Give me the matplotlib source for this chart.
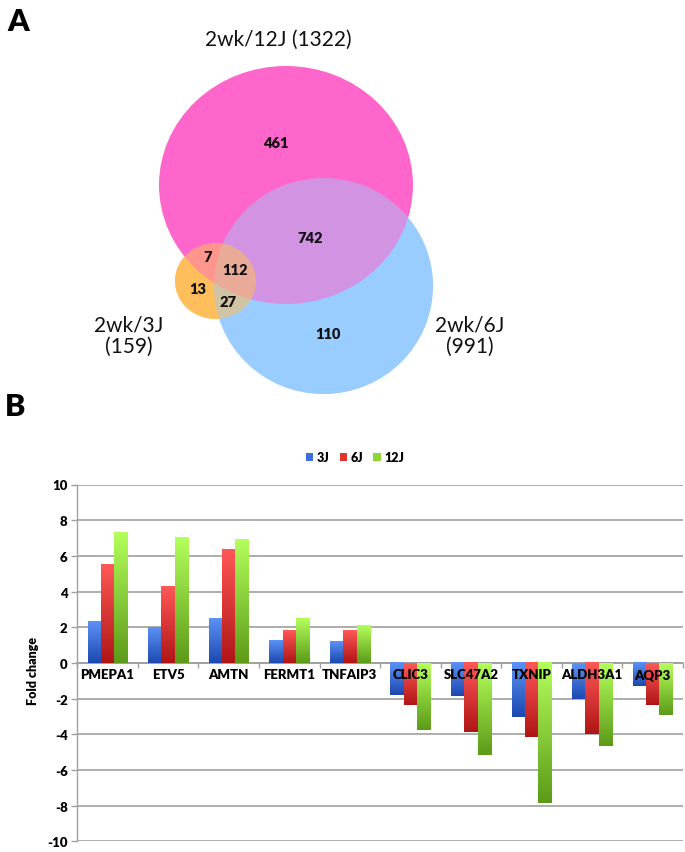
import numpy as np
import matplotlib
matplotlib.use("Agg")
import matplotlib.pyplot as plt
from matplotlib.patches import Ellipse, Patch
from matplotlib.colors import LinearSegmentedColormap

# ---------------- data ----------------
venn_sets = ["2wk/12J (1322)", "2wk/3J\n(159)", "2wk/6J\n(991)"]
venn_counts = ["461", "742", "7", "112", "13", "27", "110"]

genes = ["PMEPA1", "ETV5", "AMTN", "FERMT1", "TNFAIP3",
         "CLIC3", "SLC47A2", "TXNIP", "ALDH3A1", "AQP3"]
series_names = ["3J", "6J", "12J"]
fc_3J = [2.35, 2.0, 2.5, 1.25, 1.2, -1.8, -1.87, -3.03, -2.0, -1.32]
fc_6J = [5.52, 4.31, 6.38, 1.82, 1.82, -2.35, -3.9, -4.18, -4.0, -2.35]
fc_12J = [7.3, 7.05, 6.93, 2.5, 2.12, -3.75, -5.14, -7.88, -4.65, -2.9]
yticks = [-10, -8, -6, -4, -2, 0, 2, 4, 6, 8, 10]

FONT = ["Lato", "DejaVu Sans"]

W, H = 685, 853
fig = plt.figure(figsize=(W / 100, H / 100), dpi=100)

# ---------------- Panel A: Venn ----------------
av = fig.add_axes([0, 0, 1, 1])
av.set_xlim(0, W)
av.set_ylim(H, 0)
av.axis("off")

pink = "#FF66CC"
blue = "#99CCFF"
orange = "#FFBE5C"

pink_e = dict(xy=(286, 186), width=254, height=238)
blue_e = dict(xy=(323.5, 287), width=219, height=216)
orng_e = dict(xy=(215.5, 282), width=81, height=76)

av.add_patch(Ellipse(**orng_e, facecolor=orange, edgecolor="none", zorder=1))
av.add_patch(Ellipse(**blue_e, facecolor=blue, edgecolor="none", zorder=2))
av.add_patch(Ellipse(**pink_e, facecolor=pink, edgecolor="none", zorder=3))
av.add_patch(Ellipse(**blue_e, facecolor=blue, edgecolor="none", alpha=0.45, zorder=4))
av.add_patch(Ellipse(**orng_e, facecolor=orange, edgecolor="none", alpha=0.55, zorder=5))

cnt_pos = [(276, 143), (310, 238), (208, 257), (235, 270), (198, 289), (228, 302), (328, 334)]
for t, (x, y) in zip(venn_counts, cnt_pos):
    av.text(x, y, t, ha="center", va="center", fontsize=10.5, fontweight="heavy",
            family=FONT, color="#111111", zorder=10)

set_pos = [(278, 40), (129, 336), (470, 336)]
for t, (x, y) in zip(venn_sets, set_pos):
    av.text(x, y, t, ha="center", va="center", fontsize=15,
            family=FONT, color="#111111", zorder=10,
            linespacing=1.12)

av.text(7, 22, "A", ha="left", va="center", fontsize=22, fontweight="heavy", family=FONT)
av.text(5, 407, "B", ha="left", va="center", fontsize=22, fontweight="heavy", family=FONT)

# ---------------- Panel B: bars ----------------
left_px, right_px = 77.3, 683
top_px, bot_px = 485.5, 842.3
ab = fig.add_axes([left_px / W, (H - bot_px) / H, (right_px - left_px) / W, (bot_px - top_px) / H])
ab.set_facecolor("none")

cmaps = [
    LinearSegmentedColormap.from_list("b", ["#1C48B0", "#5C92F5"]),
    LinearSegmentedColormap.from_list("r", ["#B01515", "#FF5858"]),
    LinearSegmentedColormap.from_list("g", ["#5C9A18", "#B4FF5C"]),
]
legend_cols = ["#3B6FE0", "#E23333", "#8CD63A"]

x = np.arange(len(genes))
bw = 0.22
grad = np.linspace(0, 1, 256).reshape(-1, 1)
for k, vals in enumerate([fc_3J, fc_6J, fc_12J]):
    bars = ab.bar(x + (k - 1) * bw, vals, width=bw, facecolor="none", edgecolor="none", zorder=2)
    for rect in bars:
        x0 = rect.get_x()
        x1 = x0 + rect.get_width()
        y0 = min(rect.get_y(), rect.get_y() + rect.get_height())
        y1 = max(rect.get_y(), rect.get_y() + rect.get_height())
        ab.imshow(grad, cmap=cmaps[k], origin="lower", extent=[x0, x1, y0, y1],
                  aspect="auto", zorder=2, interpolation="bilinear")

ab.set_xlim(-0.5, len(genes) - 0.5)
ab.set_ylim(-10, 10)
ab.set_yticks(yticks)
ab.set_yticklabels([str(v) for v in yticks])
ab.grid(axis="y", color="#A0A0A0", linewidth=1.2, zorder=0)
ab.set_axisbelow(True)

for s in ["top", "right"]:
    ab.spines[s].set_visible(False)
ab.spines["left"].set_color("#A0A0A0")
ab.spines["left"].set_linewidth(1.0)
ab.spines["bottom"].set_position(("data", 0))
ab.spines["bottom"].set_color("#A0A0A0")
ab.spines["bottom"].set_linewidth(1.2)
ab.spines["bottom"].set_zorder(1)

ab.set_xticks(np.arange(len(genes) + 1) - 0.5)
ab.set_xticklabels([])
ab.tick_params(axis="x", which="major", direction="out", length=3.5, color="#A0A0A0", width=1)
ab.set_xticks(x, minor=True)
ab.set_xticklabels(genes, minor=True)
ab.tick_params(axis="x", which="minor", length=0, pad=4, labelsize=9.5)
ab.xaxis.set_zorder(5)
for lab in ab.get_xticklabels(minor=True):
    lab.set_fontweight("heavy")
    lab.set_family(FONT)

ab.tick_params(axis="y", direction="out", length=4, color="#A0A0A0", width=1, labelsize=9.5, pad=3)
for lab in ab.get_yticklabels():
    lab.set_fontweight("heavy")
    lab.set_family(FONT)

ab.set_ylabel("Fold change", fontsize=9, fontweight="heavy", family=FONT)
ab.yaxis.set_label_coords(-38 / (right_px - left_px), 0.48)

handles = [Patch(facecolor=c, edgecolor="none") for c in legend_cols]
leg = fig.legend(handles, series_names, loc="center", bbox_to_anchor=(355 / W, 1 - 458 / H),
                 ncol=3, frameon=False, handlelength=0.6, handleheight=0.6,
                 columnspacing=0.8, handletextpad=0.3,
                 prop={"weight": "heavy", "size": 9, "family": FONT})

fig.savefig("out.png", dpi=100)
